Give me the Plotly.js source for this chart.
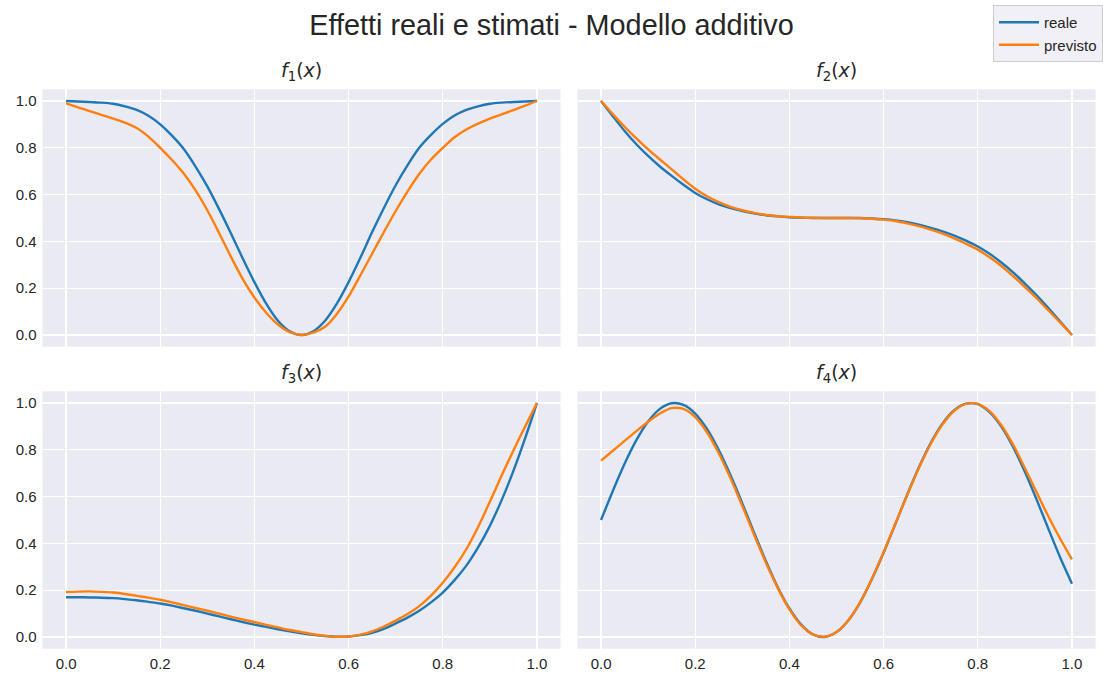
<!DOCTYPE html>
<html>
<head>
<meta charset="utf-8">
<script src="https://cdn.plot.ly/plotly-3.0.1.min.js"></script>
<style>html,body{margin:0;padding:0;background:#fff;}#chart{width:1103px;height:677px;}</style>
</head>
<body>
<div id="chart"></div>
<script>
// ---- data ----
const xGrid = [0, 0.025, 0.05, 0.075, 0.1, 0.125, 0.15, 0.175, 0.2, 0.225, 0.25, 0.275, 0.3, 0.325, 0.35, 0.375, 0.4, 0.425, 0.45, 0.475,
               0.5, 0.525, 0.55, 0.575, 0.6, 0.625, 0.65, 0.675, 0.7, 0.725, 0.75, 0.775, 0.8, 0.825, 0.85, 0.875, 0.9, 0.925, 0.95, 0.975, 1.0];

const f1Reale    = [1.0, 0.998, 0.996, 0.993, 0.988, 0.977, 0.962, 0.937, 0.9, 0.852, 0.795, 0.72, 0.635, 0.538, 0.435, 0.328, 0.226, 0.134, 0.061, 0.016,
                    0.0, 0.016, 0.061, 0.134, 0.226, 0.33, 0.44, 0.543, 0.64, 0.725, 0.8, 0.855, 0.902, 0.938, 0.962, 0.977, 0.988, 0.993, 0.996, 0.998, 1.0];
const f1Previsto = [0.99, 0.973, 0.957, 0.941, 0.925, 0.908, 0.885, 0.848, 0.8, 0.748, 0.69, 0.618, 0.533, 0.436, 0.335, 0.24, 0.16, 0.095, 0.045, 0.012,
                    0.0, 0.01, 0.035, 0.09, 0.165, 0.255, 0.347, 0.44, 0.53, 0.613, 0.688, 0.75, 0.8, 0.845, 0.878, 0.903, 0.925, 0.943, 0.961, 0.98, 1.0];

const f2Reale    = [1.0, 0.935, 0.872, 0.815, 0.765, 0.72, 0.68, 0.642, 0.607, 0.58, 0.558, 0.542, 0.53, 0.52, 0.512, 0.507, 0.503, 0.501, 0.5, 0.5,
                    0.5, 0.5, 0.5, 0.498, 0.495, 0.49, 0.482, 0.471, 0.458, 0.443, 0.425, 0.403, 0.378, 0.347, 0.31, 0.268, 0.22, 0.17, 0.115, 0.058, 0.0];
const f2Previsto = [1.0, 0.944, 0.89, 0.84, 0.793, 0.75, 0.708, 0.665, 0.625, 0.593, 0.568, 0.548, 0.533, 0.522, 0.513, 0.508, 0.505, 0.502, 0.501, 0.5,
                    0.5, 0.5, 0.499, 0.497, 0.493, 0.487, 0.477, 0.465, 0.45, 0.433, 0.413, 0.39, 0.365, 0.332, 0.295, 0.252, 0.205, 0.157, 0.105, 0.053, 0.0];

const f3Reale    = [0.17, 0.17, 0.169, 0.168, 0.166, 0.162, 0.157, 0.15, 0.143, 0.134, 0.123, 0.112, 0.1, 0.088, 0.076, 0.064, 0.053, 0.043, 0.033, 0.024,
                    0.016, 0.009, 0.004, 0.001, 0.002, 0.008, 0.018, 0.035, 0.058, 0.083, 0.112, 0.148, 0.19, 0.243, 0.305, 0.383, 0.475, 0.585, 0.71, 0.85, 1.0];
const f3Previsto = [0.192, 0.194, 0.195, 0.193, 0.19, 0.184, 0.176, 0.168, 0.159, 0.148, 0.136, 0.124, 0.112, 0.1, 0.087, 0.075, 0.064, 0.052, 0.041, 0.03,
                    0.021, 0.012, 0.005, 0.001, 0.002, 0.01, 0.024, 0.045, 0.07, 0.098, 0.132, 0.177, 0.232, 0.298, 0.375, 0.47, 0.578, 0.69, 0.797, 0.9, 1.0];

const f4Reale    = [0.5, 0.624, 0.74, 0.841, 0.921, 0.975, 0.999, 0.992, 0.955, 0.889, 0.799, 0.691, 0.571, 0.446, 0.325, 0.214, 0.122, 0.053, 0.011, 0.0,
                    0.021, 0.071, 0.147, 0.247, 0.36, 0.483, 0.608, 0.725, 0.829, 0.912, 0.969, 0.997, 0.995, 0.961, 0.899, 0.812, 0.706, 0.587, 0.462, 0.34, 0.228];
const f4Previsto = [0.754, 0.796, 0.838, 0.88, 0.92, 0.955, 0.978, 0.975, 0.94, 0.875, 0.785, 0.678, 0.56, 0.437, 0.318, 0.21, 0.118, 0.05, 0.011, 0.001,
                    0.021, 0.071, 0.148, 0.248, 0.362, 0.484, 0.606, 0.722, 0.825, 0.908, 0.967, 0.996, 0.996, 0.965, 0.905, 0.822, 0.722, 0.618, 0.515, 0.42, 0.332];

const seriesNames = ['reale', 'previsto'];
const panelTitles = ['<i>f</i><sub>1</sub>(<i>x</i>)', '<i>f</i><sub>2</sub>(<i>x</i>)', '<i>f</i><sub>3</sub>(<i>x</i>)', '<i>f</i><sub>4</sub>(<i>x</i>)'];
const tickVals = [0, 0.2, 0.4, 0.6, 0.8, 1.0];
const tickText = ['0.0', '0.2', '0.4', '0.6', '0.8', '1.0'];
const mainTitle = 'Effetti reali e stimati - Modello additivo';

// ---- styling ----
const BLUE = '#1f77b4', ORANGE = '#ff7f0e';
const panels = [
  [f1Reale, f1Previsto],
  [f2Reale, f2Previsto],
  [f3Reale, f3Previsto],
  [f4Reale, f4Previsto]
];
const axSuffix = ['', '2', '3', '4'];
const traces = [];
panels.forEach((pair, i) => {
  pair.forEach((ys, j) => {
    traces.push({
      type: 'scatter', mode: 'lines',
      x: xGrid, y: ys,
      name: seriesNames[j],
      legendgroup: seriesNames[j],
      showlegend: i === 0,
      line: {color: j === 0 ? BLUE : ORANGE, width: 2.4, shape: 'spline', smoothing: 0.8},
      xaxis: 'x' + axSuffix[i], yaxis: 'y' + axSuffix[i],
      hoverinfo: 'skip'
    });
  });
});

const W = 1103, H = 677;
const colDom = [[42.5 / W, 560.5 / W], [577.5 / W, 1095.5 / W]];
const rowDom = [[(H - 346.7) / H, (H - 89.3) / H], [(H - 648.7) / H, (H - 391.3) / H]];
const tickFont = {family: 'Liberation Sans, Arial, sans-serif', size: 15, color: '#262626'};

function xax(col, showLabels, anchor) {
  return {
    domain: colDom[col], anchor: anchor, range: [-0.05, 1.05],
    tickvals: tickVals, ticktext: tickText, showticklabels: showLabels,
    showgrid: true, gridcolor: '#ffffff', gridwidth: 1.3, zeroline: false, showline: false,
    ticks: '', ticklabelstandoff: 4, tickfont: tickFont, fixedrange: true
  };
}
function yax(row, showLabels, anchor) {
  return {
    domain: rowDom[row], anchor: anchor, range: [-0.05, 1.05],
    tickvals: tickVals, ticktext: tickText, showticklabels: showLabels,
    showgrid: true, gridcolor: '#ffffff', gridwidth: 1.3, zeroline: false, showline: false,
    ticks: '', ticklabelstandoff: 5, tickfont: tickFont, fixedrange: true
  };
}

const annotations = panelTitles.map((t, i) => {
  const col = i % 2, row = Math.floor(i / 2);
  return {
    text: t, xref: 'paper', yref: 'paper',
    x: (colDom[col][0] + colDom[col][1]) / 2, y: rowDom[row][1],
    xanchor: 'center', yanchor: 'bottom', yshift: 3, showarrow: false,
    font: {family: 'DejaVu Sans, sans-serif', size: 19, color: '#262626'}
  };
});

const layout = {
  width: W, height: H, autosize: false,
  margin: {l: 0, r: 0, t: 0, b: 0, pad: 0},
  paper_bgcolor: '#ffffff', plot_bgcolor: '#EAEAF2',
  title: {text: mainTitle, x: 0.5, xanchor: 'center', xref: 'paper', y: 1 - 25 / H, yanchor: 'middle', yref: 'paper',
          font: {family: 'Liberation Sans, Arial, sans-serif', size: 28.8, color: '#262626'}},
  xaxis: xax(0, false, 'y'),
  yaxis: yax(0, true, 'x'),
  xaxis2: xax(1, false, 'y2'),
  yaxis2: yax(0, false, 'x2'),
  xaxis3: xax(0, true, 'y3'),
  yaxis3: yax(1, true, 'x3'),
  xaxis4: xax(1, true, 'y4'),
  yaxis4: yax(1, false, 'x4'),
  annotations: annotations,
  showlegend: true,
  legend: {
    x: 993 / W, y: 1 - 5 / H, xanchor: 'left', yanchor: 'top', xref: 'paper', yref: 'paper',
    bgcolor: 'rgba(240,240,246,1)', bordercolor: '#cccccc', borderwidth: 1,
    font: {family: 'Liberation Sans, Arial, sans-serif', size: 15, color: '#262626'},
    tracegroupgap: 0, itemwidth: 40
  }
};

Plotly.newPlot('chart', traces, layout, {displayModeBar: false, staticPlot: true});
</script>
</body>
</html>
